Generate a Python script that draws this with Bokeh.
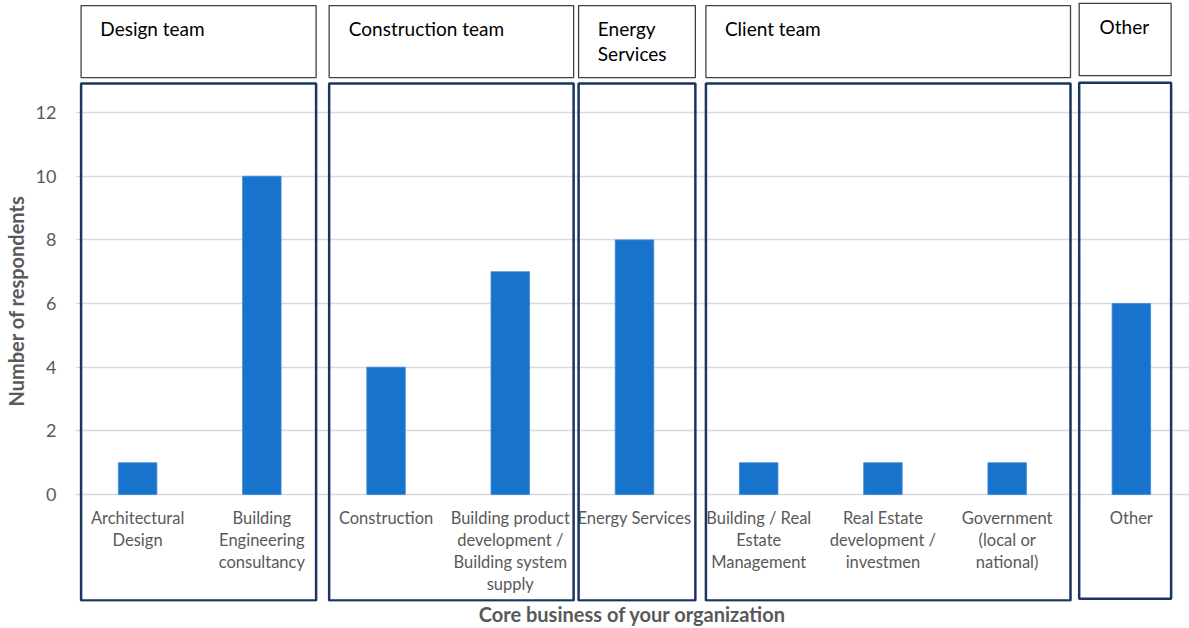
from bokeh.plotting import figure
from bokeh.models import Range1d, FixedTicker, ColumnDataSource
from bokeh.core.properties import value
from bokeh.embed import file_html
from bokeh.resources import INLINE

categories = ["Architectural\nDesign", "Building\nEngineering\nconsultancy", "Construction",
              "Building product\ndevelopment /\nBuilding system\nsupply", "Energy Services",
              "Building / Real\nEstate\nManagement", "Real Estate\ndevelopment /\ninvestmen",
              "Government\n(local or\nnational)", "Other"]
respondents = [1, 10, 4, 7, 8, 1, 1, 1, 6]
y_ticks = [0, 2, 4, 6, 8, 10, 12]
group_names = ["Design team", "Construction team", "Energy\nServices", "Client team", "Other"]

# layout of group boxes (data units along the category axis)
grp_left = [-0.455, 1.542, 3.55, 4.575, 7.58]
grp_right = [1.437, 3.51, 4.49, 7.51, 8.32]
grp_top = [12.91, 12.91, 12.91, 12.91, 12.94]
grp_bottom = [-3.33, -3.33, -3.33, -3.33, -3.27]
hdr_top = [15.36, 15.36, 15.36, 15.36, 15.43]
hdr_bottom = [13.10, 13.10, 13.10, 13.10, 13.16]
hdr_text_x = [-0.30, 1.70, 3.705, 4.728, 7.744]
hdr_text_y = [15.0, 15.0, 15.0, 15.0, 15.07]

FONT = "Lato"
GRAY = "#595959"

p = figure(width=1189, height=628, output_backend="svg", toolbar_location=None,
           x_range=Range1d(-0.5, 8.468), y_range=Range1d(-3.36, 15.52),
           min_border=0, outline_line_color=None)

xs = list(range(len(categories)))
src = ColumnDataSource(dict(x=xs, top=respondents, label=categories))

p.vbar(x="x", top="top", bottom=0, width=0.31, source=src,
       fill_color="#1873CC", line_color="#3B8AD8", line_width=0.8)

p.text(x="x", y=-0.41, text="label", source=src, text_align="center", text_baseline="top",
       text_font=value(FONT), text_font_size="16.5px", text_color=GRAY, text_line_height=1.1)

gsrc = ColumnDataSource(dict(left=grp_left, right=grp_right, top=grp_top, bottom=grp_bottom,
                             htop=hdr_top, hbottom=hdr_bottom, tx=hdr_text_x, ty=hdr_text_y,
                             name=group_names))
p.quad(left="left", right="right", top="top", bottom="bottom", source=gsrc,
       fill_alpha=0, line_color="#1A3560", line_width=2.5)
p.quad(left="left", right="right", top="htop", bottom="hbottom", source=gsrc,
       fill_alpha=0, line_color="#404040", line_width=1.3)
p.text(x="tx", y="ty", text="name", source=gsrc, text_align="left", text_baseline="top",
       text_font=value(FONT), text_font_size="19px", text_color="#000000", text_line_height=1.08)

p.xgrid.visible = False
p.ygrid.ticker = FixedTicker(ticks=y_ticks)
p.ygrid.grid_line_color = "#D9D9D9"
p.ygrid.grid_line_width = 1.5

p.yaxis.ticker = FixedTicker(ticks=y_ticks)
p.yaxis.axis_line_color = None
p.yaxis.major_tick_line_color = None
p.yaxis.minor_tick_line_color = None
p.yaxis.major_label_standoff = 13
p.yaxis.major_label_text_font = FONT
p.yaxis.major_label_text_font_size = "18px"
p.yaxis.major_label_text_color = GRAY
p.yaxis.axis_label = "Number of respondents"
p.yaxis.axis_label_text_font = FONT
p.yaxis.axis_label_text_font_size = "20px"
p.yaxis.axis_label_text_font_style = "bold"
p.yaxis.axis_label_text_color = GRAY
p.yaxis.axis_label_standoff = 5

p.xaxis.ticker = FixedTicker(ticks=[])
p.xaxis.axis_line_color = None
p.xaxis.major_tick_line_color = None
p.xaxis.minor_tick_line_color = None
p.xaxis.axis_label = "Core business of your organization"
p.xaxis.axis_label_text_font = FONT
p.xaxis.axis_label_text_font_size = "20px"
p.xaxis.axis_label_text_font_style = "bold"
p.xaxis.axis_label_text_color = GRAY
p.xaxis.axis_label_standoff = 0

open("out.html", "w").write(file_html(p, INLINE))
